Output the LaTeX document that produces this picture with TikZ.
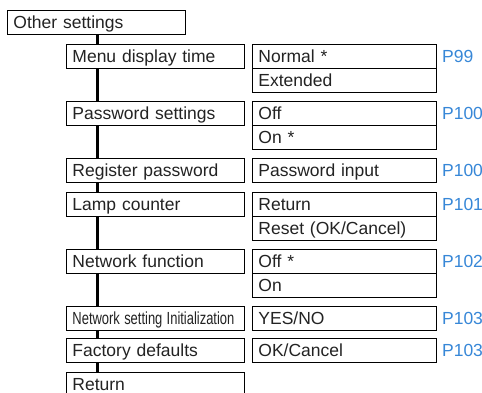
\documentclass[tikz,border=0pt]{standalone}
\usepackage{fontspec}
\setmainfont{Liberation Sans}
\usepackage{graphicx}
\definecolor{pblue}{RGB}{55,135,215}
\definecolor{txt}{RGB}{35,35,35}
\begin{document}
\begin{tikzpicture}[x=1pt,y=1pt,
  box/.style={draw=black, line width=0.9pt, fill=white, anchor=north west,
    minimum height=24pt, inner xsep=6pt, inner ysep=0pt,
    text height=16pt, text depth=4pt, align=left,
    font=\fontsize{17.5}{20}\selectfont, text=txt},
  lbox/.style={box, text width=166pt},
  rbox/.style={box, text width=172pt},
  plabel/.style={anchor=west, inner sep=0pt, text height=16pt, text depth=4pt,
    font=\fontsize{17.5}{20}\selectfont, text=pblue},
  trunk/.style={line width=3.2pt}]
\useasboundingbox (0,0) rectangle (482,-392);
\coordinate (tx) at (97.5,0);
% left column
\node[lbox] (other) at (7,-10) {Other settings};
\node[lbox] (menu) at (66,-44) {Menu display time};
\node[lbox] (pass) at (66,-101) {Password settings};
\node[lbox] (reg) at (66,-158) {Register password};
\node[lbox] (lamp) at (66,-192) {Lamp counter};
\node[lbox] (netf) at (66,-249) {Network function};
\node[lbox] (neti) at (66,-306) {\scalebox{0.74}[1]{Network setting Initialization}};
\node[lbox] (fact) at (66,-338) {Factory defaults};
\node[lbox] (ret) at (66,-372) {Return};
% trunk
\draw[trunk] (other.south -| tx) -- (menu.north -| tx);
\draw[trunk] (menu.south -| tx) -- (pass.north -| tx);
\draw[trunk] (pass.south -| tx) -- (reg.north -| tx);
\draw[trunk] (reg.south -| tx) -- (lamp.north -| tx);
\draw[trunk] (lamp.south -| tx) -- (netf.north -| tx);
\draw[trunk] (netf.south -| tx) -- (neti.north -| tx);
\draw[trunk] (neti.south -| tx) -- (fact.north -| tx);
\draw[trunk] (fact.south -| tx) -- (ret.north -| tx);
% right column
\node[rbox] (normal) at (252,-44) {Normal *};
\node[rbox] (ext) at (252,-68) {Extended};
\node[rbox] (poff) at (252,-101) {Off};
\node[rbox] (pon) at (252,-125) {On *};
\node[rbox] (pwin) at (252,-158) {Password input};
\node[rbox] (lret) at (252,-192) {Return};
\node[rbox] (lreset) at (252,-216) {Reset (OK/Cancel)};
\node[rbox] (noff) at (252,-249) {Off *};
\node[rbox] (non) at (252,-273) {On};
\node[rbox] (yesno) at (252,-306) {YES/NO};
\node[rbox] (okc) at (252,-338) {OK/Cancel};
% page labels
\node[plabel] (p1) at ([xshift=5pt]normal.east) {P99};
\node[plabel] (p2) at ([xshift=5pt]poff.east) {P100};
\node[plabel] (p3) at ([xshift=5pt]pwin.east) {P100};
\node[plabel] (p4) at ([xshift=5pt]lret.east) {P101};
\node[plabel] (p5) at ([xshift=5pt]noff.east) {P102};
\node[plabel] (p6) at ([xshift=5pt]yesno.east) {P103};
\node[plabel] (p7) at ([xshift=5pt]okc.east) {P103};
\end{tikzpicture}
\end{document}
